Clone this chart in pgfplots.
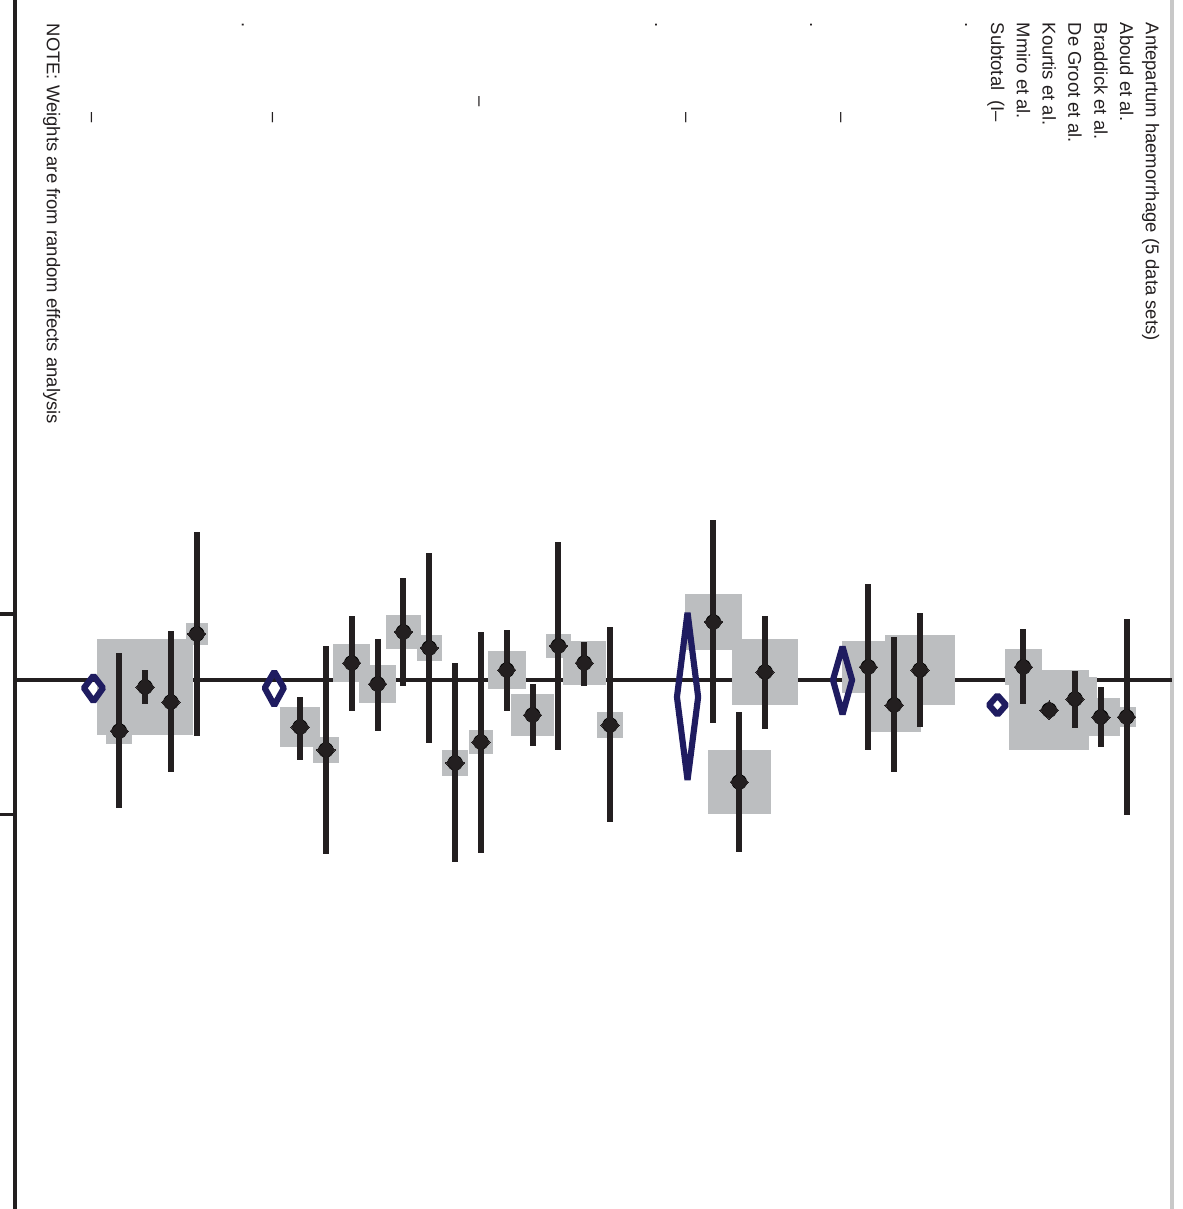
\documentclass[border=0pt]{standalone}
\usepackage{pgfplots}
\pgfplotsset{compat=1.18}
\usepackage{pgfplotstable}
\usepackage{fontspec}
\setmainfont{Liberation Sans}
\definecolor{ink}{HTML}{231F20}
\definecolor{boxgray}{HTML}{BCBEC0}
\definecolor{navy}{HTML}{1F1C60}
\definecolor{edgegray}{HTML}{C8C8C8}

% r = row (0 = top header), pt = estimate, lo/hi = CI, h = half box size (px)
\pgfplotstableread{
r  pt     lo     hi     h
1  0.555 -0.915  2.024  9
2  0.555  0.105  1.004  18
3  0.285 -0.135  0.720  21
4  0.450  0.375  0.525  39
5 -0.195 -0.765  0.360  17.5
9 -0.150 -1.005  0.705  34.5
10 0.375 -0.645  1.379  26
11 -0.195 -1.439  1.049 25.5
15 -0.120 -0.960  0.735 32
16 1.529  0.480  2.579  31
17 -0.870 -2.399  0.645 27.5
21 0.675 -0.795  2.129  12
22 -0.255 -0.570  0.090 21
23 -0.510 -2.069  1.049 11.5
24 0.525  0.060  0.990  20.5
25 -0.150 -0.750  0.465 18.5
26 0.930 -0.720  2.594  11
27 1.244 -0.255  2.729  12
28 -0.480 -1.904  0.945 12
29 -0.720 -1.529  0.090 16.5
30 0.060 -0.615  0.765  18
31 -0.255 -0.960  0.465 18
32 1.049 -0.510  2.609  12
33 0.705  0.255  1.199  19
37 -0.690 -2.219  0.840 10.5
38 0.330 -0.735  1.379  20
39 0.105 -0.150  0.360  47
40 0.765 -0.405  1.919  12.5
}\studies

\tikzset{txt/.style={font=\fontsize{5.25pt}{6pt}\selectfont, text=ink, inner sep=0pt, rotate=-90, anchor=base west}}

\begin{document}
\begin{tikzpicture}
\begin{axis}[
  at={(0,0)}, anchor=south west,
  width=11.82cm, height=12.09cm, scale only axis,
  xmin=-1.142, xmax=44.619, x dir=reverse,
  ymin=-10.195, ymax=7.931, y dir=reverse,
  hide axis, clip=true, clip mode=individual]

% frame lines
\addplot[ink, line width=1.25pt] coordinates {(44.04,-10.5) (44.04,8.2)};
\addplot[ink, line width=0.9pt] coordinates {(44.9,-0.99) (44.04,-0.99)};
\addplot[ink, line width=0.9pt] coordinates {(44.9,2.01) (44.04,2.01)};
\addplot[edgegray, line width=1.3pt] coordinates {(-0.755,-10.5) (-0.755,8.2)};
% null line
\addplot[ink, line width=1.05pt] coordinates {(44.04,0) (-0.755,0)};

% weight boxes
\addplot[scatter, only marks, mark=square*,
  scatter/use mapped color={draw=boxgray, fill=boxgray},
  visualization depends on={0.2845*\thisrow{h} \as \msz},
  scatter/@pre marker code/.append style={/tikz/mark size=\msz}]
  table[x=r, y=pt, meta=h] {\studies};

% confidence intervals
\addplot[only marks, mark=none,
  error bars/.cd, y dir=both, y explicit, error mark=none,
  error bar style={draw=ink, line width=1.7pt}]
  table[x=r, y=pt, y error plus expr=\thisrow{hi}-\thisrow{pt},
        y error minus expr=\thisrow{pt}-\thisrow{lo}] {\studies};

% point estimates
\addplot[only marks, mark=square*, mark size=1.85pt,
  mark options={rotate=45, fill=ink, draw=ink, line width=0pt}]
  table[x=r, y=pt] {\studies};

% subtotal diamonds
\addplot[navy, line width=1.75pt, line join=bevel] coordinates {(6,0.23) (6.33,0.375) (6,0.52) (5.67,0.375)} -- cycle;
\addplot[navy, line width=1.75pt, line join=bevel] coordinates {(12,-0.50) (12.37,0.0) (12,0.515) (11.63,0.0)} -- cycle;
\addplot[navy, line width=1.75pt, line join=bevel] coordinates {(18,-1.01) (18.41,0.255) (18,1.50) (17.59,0.255)} -- cycle;
\addplot[navy, line width=1.75pt, line join=bevel] coordinates {(34,-0.125) (34.37,0.12) (34,0.38) (33.63,0.12)} -- cycle;
\addplot[navy, line width=1.75pt, line join=bevel] coordinates {(41,-0.065) (41.37,0.12) (41,0.32) (40.63,0.12)} -- cycle;

% labels
\node[txt] at (axis cs:0.252,-9.865) {Antepartum haemorrhage (5 data sets)};
\node[txt] at (axis cs:1.252,-9.865) {Aboud et al.};
\node[txt] at (axis cs:2.252,-9.865) {Braddick et al.};
\node[txt] at (axis cs:3.252,-9.865) {De Groot et al.};
\node[txt] at (axis cs:4.252,-9.865) {Kourtis et al.};
\node[txt] at (axis cs:5.252,-9.865) {Mmiro et al.};
\node[txt] at (axis cs:6.252,-9.865) {Subtotal~~(I–};
\node[txt] at (axis cs:7.252,-9.865) {.};
\node[txt] at (axis cs:12.252,-8.516) {–};
\node[txt] at (axis cs:13.252,-9.865) {.};
\node[txt] at (axis cs:18.252,-8.516) {–};
\node[txt] at (axis cs:19.252,-9.865) {.};
\node[txt] at (axis cs:26.252,-8.756) {–};
\node[txt] at (axis cs:34.252,-8.516) {–};
\node[txt] at (axis cs:35.252,-9.865) {.};
\node[txt] at (axis cs:41.252,-8.516) {–};
\node[txt] at (axis cs:42.80,-9.85) {NOTE: Weights are from random effects analysis};
\end{axis}
\pgfresetboundingbox
\path (0,0) rectangle (11.82cm,12.09cm);
\end{tikzpicture}
\end{document}
